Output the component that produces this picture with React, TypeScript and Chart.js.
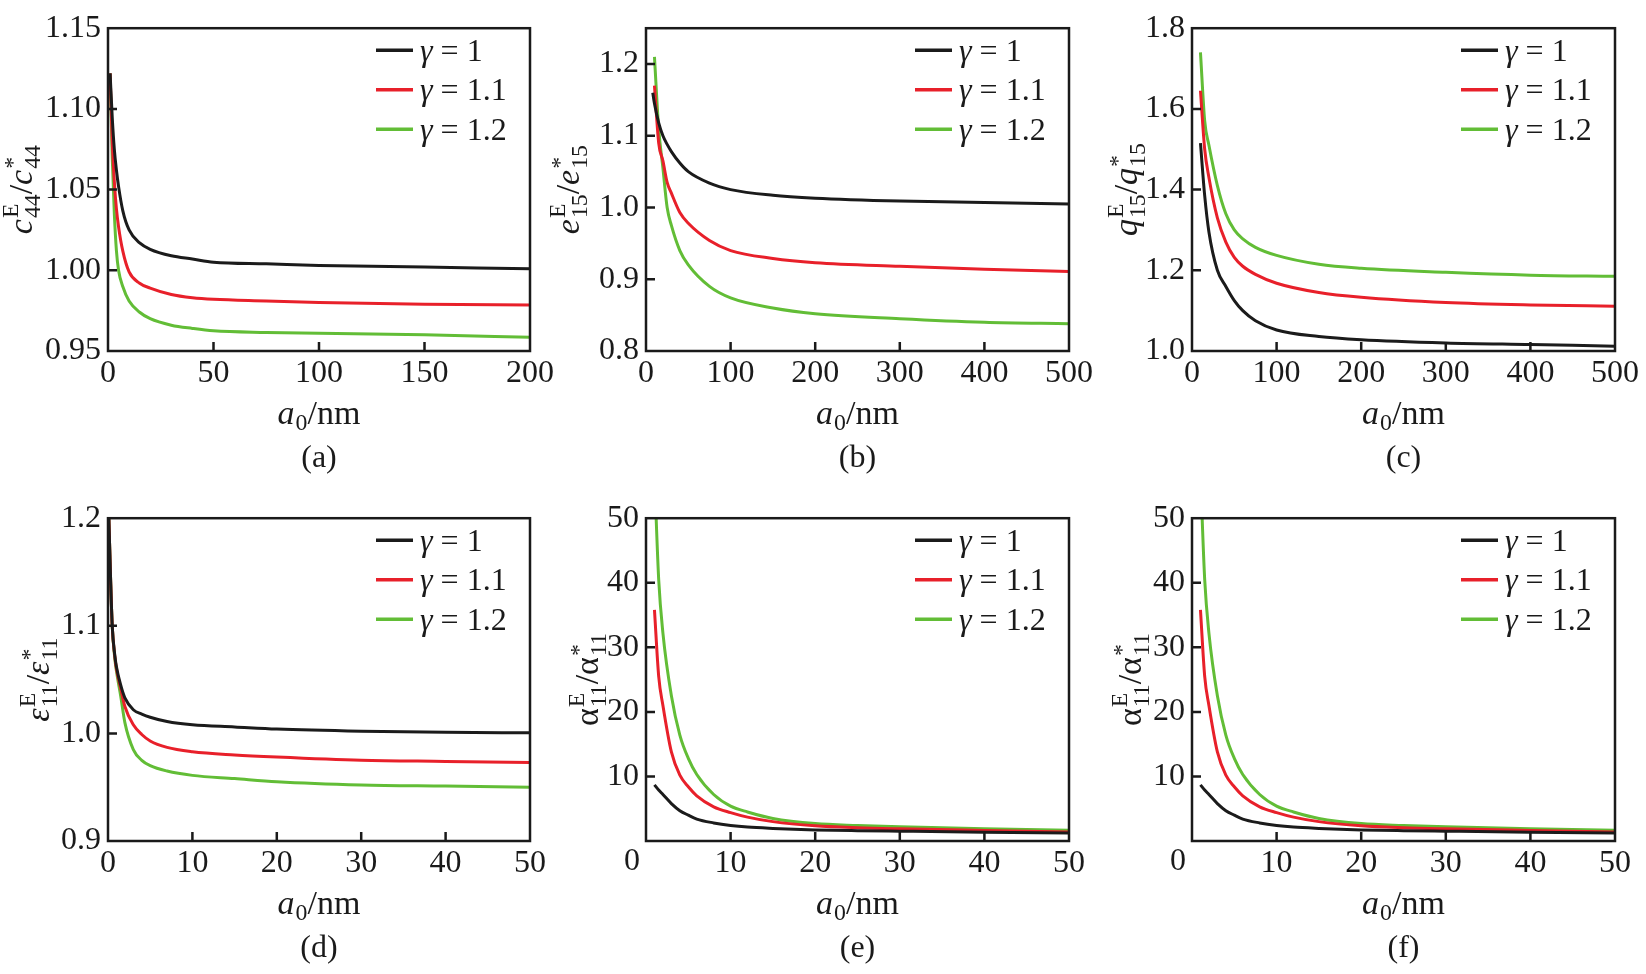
import { useEffect, useRef } from "react";
import { Chart, registerables } from "chart.js";

Chart.register(...registerables);

const FONT = '"Liberation Serif", "DejaVu Serif", serif';
const INK = "#1a1a1a";
const COLORS = ["#1b1b1b", "#e8202a", "#62bd36"];
const gammaLabels = ["1", "1.1", "1.2"];

// (a) c44
const xA = [1, 2, 3, 4, 5, 7, 10, 15, 20, 30, 40, 50, 75, 100, 150, 200];
const aG1 = [1.122, 1.095, 1.075, 1.062, 1.052, 1.037, 1.025, 1.017, 1.013, 1.009, 1.007, 1.005, 1.004, 1.003, 1.002, 1.001];
const aG11 = [1.122, 1.08, 1.055, 1.038, 1.027, 1.012, 0.999, 0.992, 0.989, 0.985, 0.983, 0.982, 0.981, 0.98, 0.979, 0.9785];
const aG12 = [1.122, 1.07, 1.035, 1.012, 1.0, 0.99, 0.981, 0.974, 0.97, 0.966, 0.964, 0.9625, 0.9615, 0.961, 0.96, 0.9585];
const xTicksA = [0, 50, 100, 150, 200];
const yTicksA = [0.95, 1.0, 1.05, 1.1, 1.15];

// (b) e15
const xB = [8, 10, 15, 20, 25, 30, 40, 50, 75, 100, 150, 200, 300, 400, 500];
const bG1 = [1.16, 1.145, 1.118, 1.1, 1.088, 1.078, 1.062, 1.05, 1.034, 1.025, 1.017, 1.013, 1.009, 1.007, 1.005];
const bG11 = [null, 1.17, 1.09, 1.065, 1.035, 1.02, 0.993, 0.978, 0.954, 0.94, 0.929, 0.923, 0.918, 0.914, 0.911];
const bG12 = [null, 1.21, 1.11, 1.055, 1.0, 0.975, 0.94, 0.92, 0.89, 0.874, 0.86, 0.852, 0.845, 0.84, 0.838];
const xTicksB = [0, 100, 200, 300, 400, 500];
const yTicksB = [0.8, 0.9, 1.0, 1.1, 1.2];

// (c) q15
const xC = [10, 15, 20, 30, 40, 50, 60, 75, 100, 150, 200, 300, 400, 500];
const cG1 = [1.515, 1.385, 1.295, 1.2, 1.16, 1.125, 1.1, 1.075, 1.052, 1.036, 1.028, 1.02, 1.016, 1.012];
const cG11 = [1.645, 1.5, 1.43, 1.33, 1.27, 1.232, 1.21, 1.19, 1.168, 1.145, 1.133, 1.12, 1.114, 1.111];
const cG12 = [1.74, 1.57, 1.51, 1.41, 1.34, 1.3, 1.278, 1.257, 1.237, 1.215, 1.205, 1.195, 1.188, 1.185];
const xTicksC = [0, 100, 200, 300, 400, 500];
const yTicksC = [1.0, 1.2, 1.4, 1.6, 1.8];

// (d) eps11
const xD = [0.1, 0.3, 0.5, 0.8, 1, 1.5, 2, 3, 4, 5, 7, 10, 15, 20, 30, 40, 50];
const dG1 = [1.2, 1.145, 1.1, 1.073, 1.062, 1.045, 1.033, 1.022, 1.018, 1.015, 1.011, 1.008, 1.006, 1.004, 1.002, 1.001, 1.0005];
const dG11 = [1.2, 1.145, 1.1, 1.072, 1.06, 1.042, 1.025, 1.008, 0.999, 0.993, 0.987, 0.983, 0.98, 0.978, 0.975, 0.974, 0.973];
const dG12 = [1.2, 1.145, 1.1, 1.07, 1.058, 1.035, 1.01, 0.985, 0.975, 0.97, 0.965, 0.961, 0.958, 0.955, 0.952, 0.951, 0.95];
const xTicksD = [0, 10, 20, 30, 40, 50];
const yTicksD = [0.9, 1.0, 1.1, 1.2];

// (e) alpha11 — panel (f) shows the same curves
const xE = [1, 1.5, 2, 3, 4, 5, 6, 8, 10, 12, 15, 20, 25, 30, 40, 50];
const eG1 = [8.7, 7.9, 7.2, 5.8, 4.7, 4.0, 3.4, 2.8, 2.4, 2.15, 1.95, 1.72, 1.6, 1.52, 1.37, 1.25];
const eG11 = [35.8, 25.5, 21, 13.8, 10.2, 8.4, 7.0, 5.3, 4.4, 3.7, 3.0, 2.35, 2.05, 1.88, 1.63, 1.4];
const eG12 = [57, 40.5, 32.2, 22.5, 16.4, 12.8, 10.3, 7.2, 5.4, 4.5, 3.5, 2.7, 2.4, 2.2, 1.9, 1.65];
const xTicksE = [0, 10, 20, 30, 40, 50];
const yTicksE = [10, 20, 30, 40, 50];

type Seg = { t: string; it?: boolean; sup?: string; sub?: string };

const fracTitle = (sym: string, idx: string, it = true): Seg[] => [
  { t: sym, it, sup: "E", sub: idx },
  { t: "/" },
  { t: sym, it, sup: "*", sub: idx },
];
const xTitle: Seg[] = [{ t: "a", it: true, sub: "0" }, { t: "/nm" }];

interface PanelCfg {
  caption: string;
  box: [number, number, number, number];
  x: number[];
  series: (number | null)[][];
  xMin: number;
  xMax: number;
  xTicks: number[];
  yMin: number;
  yMax: number;
  yTicks: number[];
  yDigits: number;
  yTitle: Seg[];
  yTitleOff: number;
  shiftZero?: boolean;
}

const panels: PanelCfg[] = [
  { caption: "(a)", box: [108, 22, 530, 351], x: xA, series: [aG1, aG11, aG12], xMin: 0, xMax: 200, xTicks: xTicksA, yMin: 0.95, yMax: 1.15, yTicks: yTicksA, yDigits: 2, yTitle: fracTitle("c", "44"), yTitleOff: 87 },
  { caption: "(b)", box: [646, 22, 1069, 351], x: xB, series: [bG1, bG11, bG12], xMin: 0, xMax: 500, xTicks: xTicksB, yMin: 0.8, yMax: 1.25, yTicks: yTicksB, yDigits: 1, yTitle: fracTitle("e", "15"), yTitleOff: 78 },
  { caption: "(c)", box: [1192, 22, 1615, 351], x: xC, series: [cG1, cG11, cG12], xMin: 0, xMax: 500, xTicks: xTicksC, yMin: 1.0, yMax: 1.8, yTicks: yTicksC, yDigits: 1, yTitle: fracTitle("q", "15"), yTitleOff: 66 },
  { caption: "(d)", box: [108, 512, 530, 841], x: xD, series: [dG1, dG11, dG12], xMin: 0, xMax: 50, xTicks: xTicksD, yMin: 0.9, yMax: 1.2, yTicks: yTicksD, yDigits: 1, yTitle: fracTitle("ε", "11"), yTitleOff: 70 },
  { caption: "(e)", box: [646, 512, 1069, 841], x: xE, series: [eG1, eG11, eG12], xMin: 0, xMax: 50, xTicks: xTicksE, yMin: 0, yMax: 50, yTicks: yTicksE, yDigits: 0, yTitle: fracTitle("α", "11", false), yTitleOff: 59, shiftZero: true },
  { caption: "(f)", box: [1192, 512, 1615, 841], x: xE, series: [eG1, eG11, eG12], xMin: 0, xMax: 50, xTicks: xTicksE, yMin: 0, yMax: 50, yTicks: yTicksE, yDigits: 0, yTitle: fracTitle("α", "11", false), yTitleOff: 62, shiftZero: true },
];

const Y_AXIS_W = 105;
const X_AXIS_H = 130;
const PAD_T = 20;
const PAD_R = 28;

function setFont(ctx: CanvasRenderingContext2D, size: number, it?: boolean) {
  ctx.font = `${it ? "italic " : ""}${size}px ${FONT}`;
}

function segWidth(ctx: CanvasRenderingContext2D, s: Seg, size: number) {
  setFont(ctx, size, s.it);
  let w = ctx.measureText(s.t).width;
  if (s.sup || s.sub) {
    setFont(ctx, size * 0.7);
    const a = s.sup ? ctx.measureText(s.sup).width : 0;
    const b = s.sub ? ctx.measureText(s.sub).width : 0;
    w += Math.max(a, b) + 1;
  }
  return w;
}

// draws mixed text; y is the visual middle of the line
function drawRich(ctx: CanvasRenderingContext2D, segs: Seg[], x: number, y: number, size: number, align: "center" | "left") {
  const total = segs.reduce((acc, s) => acc + segWidth(ctx, s, size), 0);
  let cx = align === "center" ? x - total / 2 : x;
  const base = y + size * 0.33;
  ctx.textAlign = "left";
  ctx.textBaseline = "alphabetic";
  for (const s of segs) {
    setFont(ctx, size, s.it);
    ctx.fillText(s.t, cx, base);
    cx += ctx.measureText(s.t).width;
    if (s.sup || s.sub) {
      setFont(ctx, size * 0.7);
      const both = !!(s.sup && s.sub);
      let w = 0;
      if (s.sup) {
        ctx.fillText(s.sup, cx + 1, base - size * (s.sup === "*" ? 0.36 : 0.42));
        w = Math.max(w, ctx.measureText(s.sup).width);
      }
      if (s.sub) {
        ctx.fillText(s.sub, cx + 1, base + size * (both ? 0.24 : 0.18));
        w = Math.max(w, ctx.measureText(s.sub).width);
      }
      cx += w + 1;
    }
  }
}

function Panel({ cfg }: { cfg: PanelCfg }) {
  const canvasRef = useRef<HTMLCanvasElement>(null);
  const [L, T, R, B] = cfg.box;
  const left = L - Y_AXIS_W;
  const top = T - PAD_T;
  const width = R - L + Y_AXIS_W + PAD_R;
  const height = B - T + PAD_T + X_AXIS_H;

  useEffect(() => {
    let chart: Chart | undefined;
    if (canvasRef.current) {
      const decor = {
        id: "decor",
        afterDatasetsDraw(c: any) {
          const ctx: CanvasRenderingContext2D = c.ctx;
          const a = c.chartArea;
          const xs = c.scales.x;
          const ys = c.scales.y;
          ctx.save();
          ctx.strokeStyle = INK;
          ctx.lineWidth = 2.5;
          ctx.strokeRect(a.left, a.top, a.right - a.left, a.bottom - a.top);
          ctx.beginPath();
          for (const v of cfg.xTicks) {
            if (v <= cfg.xMin || v >= cfg.xMax) continue;
            const px = xs.getPixelForValue(v);
            ctx.moveTo(px, a.bottom);
            ctx.lineTo(px, a.bottom - 9);
          }
          for (const v of cfg.yTicks) {
            if (v <= cfg.yMin || v >= cfg.yMax) continue;
            const py = ys.getPixelForValue(v);
            ctx.moveTo(a.left, py);
            ctx.lineTo(a.left + 9, py);
          }
          ctx.stroke();
          ctx.restore();
        },
        afterDraw(c: any) {
          const ctx: CanvasRenderingContext2D = c.ctx;
          const a = c.chartArea;
          const midX = (a.left + a.right) / 2;
          ctx.save();
          ctx.fillStyle = INK;
          // legend
          c.data.datasets.forEach((ds: any, i: number) => {
            const y = a.top + 22 + i * 39.5;
            ctx.strokeStyle = ds.borderColor;
            ctx.lineWidth = 3.5;
            ctx.beginPath();
            ctx.moveTo(a.right - 154, y);
            ctx.lineTo(a.right - 117, y);
            ctx.stroke();
            drawRich(ctx, [{ t: "γ", it: true }, { t: " = " + ds.label }], a.right - 110, y, 32, "left");
          });
          // shifted zero label
          if (cfg.shiftZero) {
            setFont(ctx, 32);
            ctx.textAlign = "center";
            ctx.textBaseline = "middle";
            ctx.fillText("0", a.left - 14, a.bottom + 21);
          }
          // axis titles and caption
          drawRich(ctx, xTitle, midX, a.bottom + 62, 34, "center");
          setFont(ctx, 32);
          ctx.textAlign = "center";
          ctx.textBaseline = "middle";
          ctx.fillText(cfg.caption, midX, a.bottom + 108);
          ctx.translate(a.left - cfg.yTitleOff, (a.top + a.bottom) / 2);
          ctx.rotate(-Math.PI / 2);
          drawRich(ctx, cfg.yTitle, 0, 0, 34, "center");
          ctx.restore();
        },
      };

      chart = new Chart(canvasRef.current, {
        type: "line",
        data: {
          datasets: cfg.series.map((ys, i) => ({
            label: gammaLabels[i],
            data: cfg.x.map((x, j) => ({ x, y: ys[j] })),
            borderColor: COLORS[i],
            borderWidth: 3,
            pointRadius: 0,
            fill: false,
            cubicInterpolationMode: "monotone",
          })),
        } as any,
        options: {
          responsive: false,
          animation: false,
          layout: { padding: { left: 0, top: PAD_T, right: PAD_R, bottom: 0 } },
          plugins: { legend: { display: false }, tooltip: { enabled: false } },
          scales: {
            x: {
              type: "linear",
              min: cfg.xMin,
              max: cfg.xMax,
              afterBuildTicks: (s: any) => {
                s.ticks = cfg.xTicks.map((v) => ({ value: v }));
              },
              afterFit: (s: any) => {
                s.height = X_AXIS_H;
              },
              grid: { display: false, drawTicks: false },
              border: { display: false },
              ticks: {
                autoSkip: false,
                maxRotation: 0,
                padding: 3,
                color: INK,
                font: { family: FONT, size: 32 },
                callback: (v: any) => (cfg.shiftZero && Number(v) === 0 ? "" : String(v)),
              },
            },
            y: {
              type: "linear",
              min: cfg.yMin,
              max: cfg.yMax,
              afterBuildTicks: (s: any) => {
                s.ticks = cfg.yTicks.map((v) => ({ value: v }));
              },
              afterFit: (s: any) => {
                s.width = Y_AXIS_W;
              },
              grid: { display: false, drawTicks: false },
              border: { display: false },
              ticks: {
                autoSkip: false,
                padding: 7,
                color: INK,
                font: { family: FONT, size: 32 },
                callback: (v: any) => Number(v).toFixed(cfg.yDigits),
              },
            },
          },
        } as any,
        plugins: [decor],
      });
    }
    return () => {
      if (chart) chart.destroy();
    };
  }, []);

  return (
    <canvas
      ref={canvasRef}
      width={width}
      height={height}
      style={{ position: "absolute", left, top, width, height }}
    />
  );
}

export default function App() {
  return (
    <div style={{ position: "absolute", left: 0, top: 0, width: 1646, height: 974, background: "#fff", overflow: "hidden" }}>
      {panels.map((p) => (
        <Panel key={p.caption} cfg={p} />
      ))}
    </div>
  );
}
